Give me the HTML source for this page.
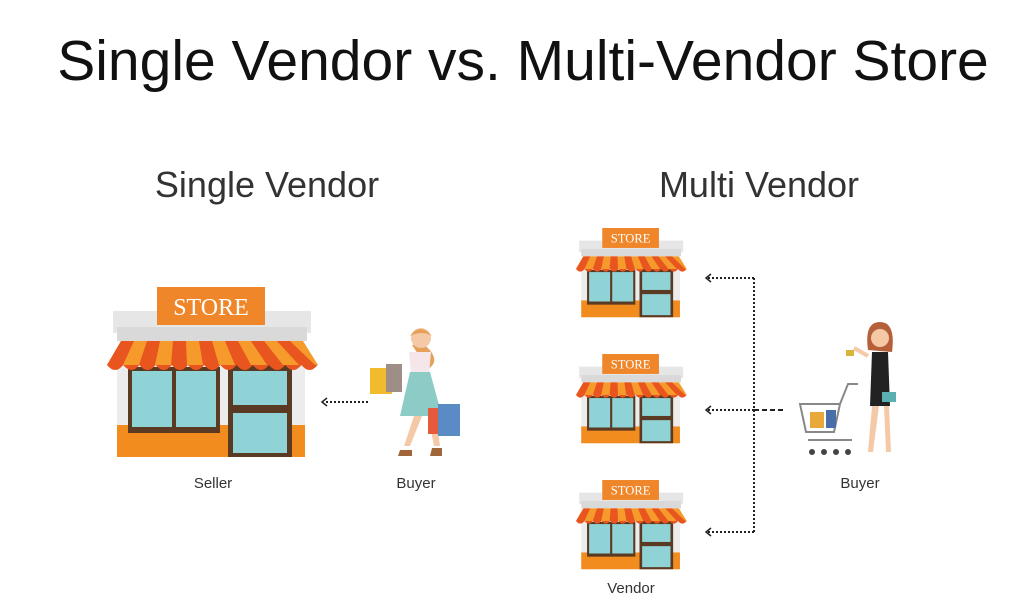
<!DOCTYPE html>
<html><head><meta charset="utf-8"><style>
html,body{margin:0;padding:0;background:#fff;}
svg{display:block}
</style></head><body>
<svg width="1024" height="614" viewBox="0 0 1024 614" xmlns="http://www.w3.org/2000/svg" font-family="Liberation Sans, sans-serif">
<defs>
<g id="st">
  <rect x="6" y="24" width="198" height="22" fill="#e6e6e6"/>
  <rect x="10" y="40" width="190" height="14" fill="#d9d9d9"/>
  <rect x="50" y="0" width="108" height="38" fill="#f0862a"/>
  <rect x="10" y="70" width="188" height="100" fill="#ececec"/>
  <rect x="10" y="138" width="188" height="32" fill="#f28c1e"/>
  <rect x="21" y="80" width="92" height="66" fill="#5a3a22"/>
  <rect x="25" y="84" width="40" height="56" fill="#8fd3d6"/>
  <rect x="69" y="84" width="40" height="56" fill="#8fd3d6"/>
  <rect x="121" y="78" width="64" height="92" fill="#5a3a22"/>
  <rect x="126" y="84" width="54" height="34" fill="#8fd3d6"/>
  <rect x="126" y="126" width="54" height="40" fill="#8fd3d6"/>
  <path d="M14 54 H196 L211 78 H0 Z" fill="#f59a2b"/>
  <path d="M14 54 L0 78 H16 L27 54Z M40 54 L32 78 H48 L53 54Z M66 54 L64 78 H80 L79 54Z M92 54 L96 78 H112 L105 54Z M118 54 L128 78 H144 L131 54Z M144 54 L160 78 H176 L157 54Z M170 54 L192 78 H208 L183 54Z" fill="#e8551e"/>
  <path d="M0 78 q8.1 10 16.2 0 q8.1 10 16.2 0 q8.1 10 16.2 0 q8.1 10 16.2 0 q8.1 10 16.2 0 q8.1 10 16.2 0 q8.1 10 16.2 0 q8.1 10 16.2 0 q8.1 10 16.2 0 q8.1 10 16.2 0 q8.1 10 16.2 0 q8.1 10 16.2 0 q8.1 10 16.2 0 Z" fill="#e8551e"/>
</g>
</defs>
<text x="523" y="80" font-size="57" text-anchor="middle" fill="#111">Single Vendor vs. Multi-Vendor Store</text>
<text x="267" y="197" font-size="36" text-anchor="middle" fill="#333">Single Vendor</text>
<text x="759" y="197" font-size="36" text-anchor="middle" fill="#333">Multi Vendor</text>

<g transform="translate(107,287)"><use href="#st"/><text x="104" y="28" font-size="24" font-family="Liberation Serif, serif" text-anchor="middle" fill="#fff">STORE</text></g>
<g transform="translate(576,228) scale(0.525)"><use href="#st"/><text x="104" y="28" font-size="24" font-family="Liberation Serif, serif" text-anchor="middle" fill="#fff">STORE</text></g>
<g transform="translate(576,354) scale(0.525)"><use href="#st"/><text x="104" y="28" font-size="24" font-family="Liberation Serif, serif" text-anchor="middle" fill="#fff">STORE</text></g>
<g transform="translate(576,480) scale(0.525)"><use href="#st"/><text x="104" y="28" font-size="24" font-family="Liberation Serif, serif" text-anchor="middle" fill="#fff">STORE</text></g>

<g stroke="#222" stroke-width="2" fill="none" stroke-dasharray="2 2">
  <path d="M368 402 H324"/>
  <path d="M754 278 V532"/>
  <path d="M754 278 H708 M754 410 H708 M754 532 H708"/>
  <path d="M754 410 H785" stroke-dasharray="5 3"/>
</g>
<g stroke="#222" stroke-width="1.5" fill="none">
  <path d="M327 398 L322 402 L327 406"/>
  <path d="M711 274 L706 278 L711 282"/>
  <path d="M711 406 L706 410 L711 414"/>
  <path d="M711 528 L706 532 L711 536"/>
</g>

<!-- buyer 1 -->
<g>
  <path d="M412 345 q12 -4 20 8 q6 10 -4 16" fill="#e5a05a"/>
  <circle cx="421" cy="338" r="10" fill="#f5c9a5"/>
  <path d="M410 336 q10 -14 22 0 q-10 -6 -22 0" fill="#e5a05a"/>
  <path d="M409 352 h22 l-2 22 h-18z" fill="#f5e6ea"/>
  <path d="M410 372 h20 l12 44 h-42z" fill="#8ccbc6"/>
  <path d="M414 416 l-10 30 h6 l12 -30z M428 416 l6 30 h6 l-4 -30z" fill="#f5c9a5"/>
  <rect x="370" y="368" width="22" height="26" fill="#f2bb2e"/>
  <rect x="386" y="364" width="16" height="28" fill="#9e8e86"/>
  <rect x="428" y="408" width="16" height="26" fill="#e55a3a"/>
  <rect x="438" y="404" width="22" height="32" fill="#5b8bc4"/>
  <path d="M400 450 h12 v6 h-14z M432 448 h10 v8 h-12z" fill="#a0663a"/>
</g>
<!-- buyer 2 -->
<g>
  <path d="M868 350 q-4 -28 12 -28 q16 0 12 30z" fill="#b5603a"/>
  <circle cx="880" cy="338" r="9" fill="#f5c9a5"/>
  <path d="M872 352 h16 l2 54 h-20z" fill="#222"/>
  <path d="M872 406 l-4 46 h5 l6 -46z M884 406 l2 46 h5 l-2 -46z" fill="#f5c9a5"/>
  <path d="M868 356 l-14 -8" stroke="#f5c9a5" stroke-width="4"/>
  <rect x="846" y="350" width="8" height="6" fill="#d8b43a"/>
  <rect x="882" y="392" width="14" height="10" fill="#5ab0b0"/>
  <path d="M800 404 h40 l-6 28 h-28z" fill="none" stroke="#888" stroke-width="2"/>
  <rect x="810" y="412" width="14" height="16" fill="#e8a93a"/>
  <rect x="826" y="410" width="10" height="18" fill="#4a6fa8"/>
  <path d="M840 404 l8 -20 h10 M808 440 h44" stroke="#888" stroke-width="2" fill="none"/>
  <g fill="#444"><circle cx="812" cy="452" r="3"/><circle cx="824" cy="452" r="3"/><circle cx="836" cy="452" r="3"/><circle cx="848" cy="452" r="3"/></g>
</g>

<g font-size="15" fill="#333" text-anchor="middle">
  <text x="213" y="488">Seller</text>
  <text x="416" y="488">Buyer</text>
  <text x="860" y="488">Buyer</text>
  <text x="631" y="593">Vendor</text>
</g>
</svg>
</body></html>
